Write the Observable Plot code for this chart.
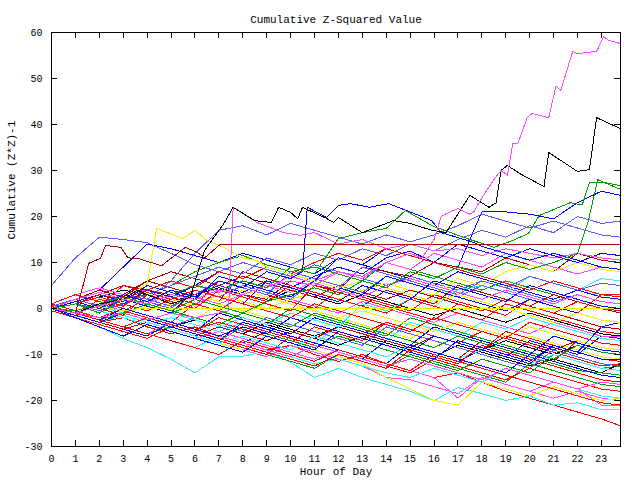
<!DOCTYPE html>
<html>
<head>
<meta charset="utf-8">
<script src="https://cdn.jsdelivr.net/npm/d3@7"></script>
<script src="https://cdn.jsdelivr.net/npm/@observablehq/plot@0.6"></script>
<style>
  html, body { margin: 0; padding: 0; background: #fff; }
  svg { display: block; }
</style>
</head>
<body>
<div id="chart"></div>
<script>
// ---------- text ----------
const titleText = "Cumulative Z-Squared Value";
const xLabelText = "Hour of Day";
const yLabelText = "Cumulative (Z*Z)-1";

// ---------- ticks ----------
const xTicks = [0,1,2,3,4,5,6,7,8,9,10,11,12,13,14,15,16,17,18,19,20,21,22,23];
const yTicks = [-30,-20,-10,0,10,20,30,40,50,60];

// ---------- hourly sample times for most runs ----------
const hours = [0,1,2,3,4,5,6,7,8,9,10,11,12,13,14,15,16,17,18,19,20,21,22,23,23.8];

// ---------- hourly runs, grouped by colour ----------
const redRuns = [
  [0,-1.5,-3,-2,-4,-5.5,-4,-6,-7.5,-9,-8,-10,-11.5,-10,-12,-13.5,-15,-14,-16,-18,-19.5,-21,-22.5,-24,-25.5],
  [1,-0.5,-2,0,-1.5,-3,1,-0.5,-2,-3.5,-1,-2.5,-4,-5.5,-3,-4.5,-6,-7.5,-5,-6.5,-8,-9.5,-11,-12.5,-12],
  [0,2,0.5,5,3.5,2,0.5,6,4.5,3,1.5,0,4,2.5,1,-0.5,3,1.5,0,-1.5,2,0.5,-1,3,3],
  [-0.5,-2,-3.5,-5,-6.5,-4,-5.5,-7,-8.5,-10,-6,-7.5,-9,-10.5,-12,-8,-9.5,-11,-7,-8.5,-10,-11.5,-7,-8.5,-9],
  [0.5,-1,1,-0.5,-2,-3.5,-5,-2,-3.5,-5,-6.5,-8,-9.5,-11,-12.5,-14,-11,-12.5,-14,-15.5,-13,-14.5,-16,-17.5,-18],
  [0,-1.5,2,0.5,4,2.5,1,-0.5,3,1.5,5,3.5,2,0.5,-1,2,0.5,-1,-2.5,1,-0.5,-2,-3.5,-5,-5.5],
  [1,3,1.5,0,-1.5,-3,-4.5,-3,-4.5,-6,-7.5,-4,-5.5,-7,-3,-4.5,-6,-7.5,-9,-5,-6.5,-8,-9.5,-11,-11.5],
  [0,-1,-2.5,-4,-5.5,-7,-8.5,-10,-7,-8.5,-10,-11.5,-9,-10.5,-12,-13.5,-10,-11.5,-13,-14.5,-16,-17.5,-19,-20.5,-21],
  [0,1.5,0,-1.5,3,1.5,0,4,2.5,1,-0.5,5,3.5,2,0.5,-1,-2.5,1,-0.5,2,0.5,-1,1.5,0,-0.5],
  [0,1,3,2,4,6,4.5,8,6.5,9,7.5,10,12,10.5,13,11.5,10,8.5,7,5.5,4,6,4.5,3,2.5],
  [0,-1,-2.5,-4,-2,-3.5,-5,-6.5,-8,-9.5,-11,-12.5,-10,-11.5,-13,-9,-10.5,-12,-8,-9.5,-11,-12.5,-14,-15.5,-16],
  [0,1,2.5,1,-0.5,2,4,2.5,1,-0.5,-2,1,-0.5,-2,-3.5,-5,-2,-3.5,-5,-6.5,-3,-4.5,-6,-7.5,-8]
];
const darkRedRuns = [
  [0,-1,1,3,6,4.5,3,1.5,8,6.5,5,3.5,2,0.5,4,2.5,1,5,3.5,2,0.5,-1,-2.5,-4,-4.5],
  [0,1,3,5,4,3,2,4,3,2,6,5,4,9,8,7,10,9,8,11,9.5,8,12,10.5,10],
  [0,-1.5,-3,-4.5,-3,-4.5,-6,-4,-5.5,-7,-5,-6.5,-4,-5.5,-7,-8.5,-6,-7.5,-9,-6,-7.5,-9,-7,-8.5,-9],
  [0,2,4,2.5,6,8,6.5,5,7,5.5,4,2.5,5,3.5,2,4,2.5,1,-0.5,2,0.5,3,1.5,0,-1]
];
const greenRuns = [
  [0,-1.5,-3,-1,-2.5,-4,-5.5,-7,-4,-5.5,-7,-8.5,-6,-7.5,-9,-10.5,-12,-13.5,-11,-12.5,-14,-10,-11.5,-13,-12.5],
  [0.5,-1,-2.5,-4,-5.5,-4,-5.5,-7,-8.5,-10,-11.5,-13,-10,-11.5,-13,-10,-11.5,-13,-14.5,-16,-12,-13.5,-15,-16.5,-17],
  [0,1,0,2,3,5,8,10,11.5,9.5,8,9,7.5,6,10,8.5,7,5.5,4,6,4.5,3,1.5,0,-0.5],
  [0,-1,0.5,-1,-2.5,-1,1,-0.5,-2,-3.5,0,-1.5,-3,-4.5,-6,-2,-3.5,-5,-6.5,-8,-9.5,-11,-8,-9.5,-10],
  [0,-1,-2.5,-1,1,-0.5,-2,-3.5,-1,-2.5,-4,-1,-2.5,-4,-5.5,-7,-8.5,-6,-7.5,-9,-10.5,-12,-13.5,-14,-14.5]
];
const blueRuns = [
  [0,-1,1,-0.5,2,0.5,3,5,3.5,6,4.5,7,9,7.5,11,12.5,10,9,21,21,20.5,19.5,23,25.5,24.6],
  [0,2,4,9,14,13,11.5,10,12,10.5,9,7.5,11,9.5,8,6.5,5,8,6.5,5,3.5,2,4,2.5,2],
  [0,-1.5,-3,-4.5,-6,-3,-4.5,-6,-7.5,-5,-6.5,-8,-9.5,-11,-7,-8.5,-10,-11.5,-9,-10.5,-7,-8.5,-10,-6,-6.5],
  [0.5,-1,-2.5,-4,-2,-3.5,-5,-1,-2.5,-4,-5.5,-2,-3.5,-5,-6.5,-8,-4,-5.5,-7,-8.5,-10,-6,-7.5,-9,-9.5],
  [0,1,-0.5,2,0.5,-1,4,2.5,1,6,4.5,3,1.5,5,3.5,2,6,4.5,3,1.5,5,3.5,2,0.5,0],
  [0,-1.5,-3,-1,-2.5,-4,-5.5,-7,-3,-4.5,-6,-7.5,-9,-10.5,-12,-8,-9.5,-11,-12.5,-14,-10,-11.5,-13,-14.5,-15],
  [0,1,2.5,1,4,2.5,5,8,6.5,9,7.5,6,11,9.5,13,11.5,10,14,12.5,11,13,11.5,10,12,11.5],
  [0,-2,-4,-6,-3.5,-5,-6.5,-8,-9.5,-6,-7.5,-9,-5,-6.5,-8,-9.5,-11,-7,-8.5,-10,-11.5,-8,-9.5,-11,-11],
  [0,1.5,3,1.5,5,3.5,2,7,5.5,4,2.5,6,4.5,3,7,5.5,4,2.5,1,-0.5,2,0.5,-1,-2.5,-3],
  [0,-1,-2.5,0,-1.5,-3,-4.5,-6,-4,-5.5,-2,-3.5,-5,-6.5,-8,-9.5,-6,-7.5,-9,-10.5,-12,-8,-9.5,-4,-3]
];
const lightBlueRuns = [
  [5,11,15.5,15,14.3,12,9.5,8,10,8.5,7,9.5,8,6.5,5,7,5.5,4,6,4.5,3,1.5,3,1.5,1],
  [0,-1,1,3,2,6,12,17,18,16,18.5,17,15.5,14,16,14.5,16,18,20.5,19,17.5,19,17.5,16,15.5],
  [0,-1,-2.5,-1,-2.5,-4,-2,-3.5,-5,-2,-3.5,-5,-6.5,-8,-4,-5.5,-7,-8.5,-10,-11.5,-13,-9,-10.5,-12,-12.5],
  [0.5,2,0.5,3,1.5,0,4,2.5,5,3.5,2,6,4.5,9,7.5,6,4.5,3,6,4.5,7,5.5,4,5.5,5],
  [0,1,-0.5,1,3,5,7,9,7.5,11,9.5,12,10.5,13,11.5,14,12.5,15,17,15.5,18,16.5,20,18.5,19],
  [0,-0.5,1,-0.5,2,0.5,3,6,4.5,3,8,6.5,5,3.5,7,5.5,4,2.5,5,3.5,2,0.5,-1,-2.5,-3]
];
const magentaRuns = [
  [0,-1.5,-3,-4.5,-3,-4.5,-6,-7.5,-9,-10.5,-8,-9.5,-11,-12.5,-15,-15.5,-17,-18.5,-15,-16.5,-18,-19.5,-18,-19.5,-20],
  [0,1,-0.5,-2,-3.5,-5,-6.5,-5,-6.5,-8,-9.5,-11,-9,-10.5,-12,-13.5,-15,-19.5,-15,-16.5,-18,-16,-17.5,-21,-21],
  [1,3,4.5,3,4,2.5,1,3,1.5,0,2,0.5,-1,1.5,0,-1.5,-3,-1,-2.5,-4,-5.5,-3,-4.5,-6,-6],
  [0,-0.5,1,2.5,1,4,2.5,1,3,5,3.5,6,8,6.5,10,8.5,12,10.5,9,12,10.5,9,7.5,9,8.5],
  [0,2,3.5,2,1,3,5,3.5,6,4.5,7,5.5,4,2.5,5,6.5,5,3.5,2,4,2.5,1,3,1.5,1],
  [0,-1,-2.5,-4,-5.5,-3,-4.5,-6,-7.5,-9,-10.5,-8,-9.5,-11,-12.5,-11,-12.5,-14,-15.5,-13,-14.5,-16,-17.5,-16,-16.5]
];
const cyanRuns = [
  [0,-2,-4,-6.5,-8.5,-11,-14,-10.5,-10.4,-9.2,-11.7,-15,-13,-15,-16.5,-18,-20,-17.2,-18.5,-20,-19,-21,-20.5,-22,-22],
  [0,-1,-2.5,-4,-5.5,-7,-8.5,-6,-7.5,-9,-10.5,-12,-11,-12.5,-14,-15,-13,-14.5,-16,-13,-14.5,-16,-17.5,-19,-19.5],
  [0,1,-0.5,-2,-3.5,-2,-3.5,-5,-3,-4.5,-6,-7.5,-4,-5.5,-7,-3,-4.5,-6,-3,-4.5,-2,-3.5,-5,-6.5,-7],
  [0,-1,0.5,-1,-2.5,-1,-2.5,-4,-2,-3.5,-1,-2.5,-4,1,-0.5,2,0.5,4,5,3.5,7,5.5,4,6.5,6],
  [0,-1.5,-3,-1.5,-3,-4.5,-6,-7.5,-6,-7.5,-9,-6,-7.5,-9,-10.5,-8,-9.5,-11,-9,-10.5,-12,-10,-11.5,-13,-13.5]
];
const yellowRuns = [
  [0,-1.5,-3,-4.5,-3,-4.5,-6,-7.5,-9,-6,-7.5,-9,-10.5,-12,-15,-17.5,-20,-21,-16,-17.5,-19,-17,-18.5,-20,-19.5],
  [0,-1,-2.5,-1,0.5,-1,-2.5,1,-0.5,-2,-3.5,-5,-2,-3.5,-5,-6.5,-4,-5.5,-7,-8.5,-6,-7.5,-9,-10.5,-11],
  [0,1,-0.5,1,-0.5,2,0.5,3,1.5,0,2,3.5,2,4,5.5,4,3,6.5,5,8,9.5,8,10,8.5,8],
  [0,1,2.5,1,-0.5,1,3,1.5,4,2.5,1,-0.5,-2,-0.5,-2,-3.5,-5,-3,-4.5,-6,-4,-5.5,-7,-8.5,-9]
];
const blackRuns = [
  [0,-1,-2.5,-1,-2.5,-1,-2.5,-4,-2,-3.5,-5,-6.5,-8,-6,-7.5,-9,-10.5,-8,-9.5,-11,-12.5,-11,-12.5,-14,-12],
  [0,1,2.5,4,3,1.5,3,4.5,3,1.5,4,2.5,1,3,1.5,0,-1.5,0,-1.5,-3,-1,-2.5,-4,-5.5,-6],
  [0,-1,0.5,-1,-2.5,-4,-2.5,-4,-5.5,-3,-4.5,-6,-4,-5.5,-7,-8.5,-6,-7.5,-9,-7,-8.5,-10,-8,-9.5,-10]
];

// ---------- runs read at finer times ----------
const blueTopHours  = [0,1,2,3,4,5,6,7,8,9,10,10.5,10.7,11.5,12,12.5,13.3,14.1,15,15.9,16.3,17.7,18,19,20,21,22,23,23.8];
const blueTopValues = [0,1.5,0,3,1.5,4,2.5,6,4.5,8,6.5,8,22,19.8,22.4,22.8,22,22.8,21,19.1,16.5,14.3,13.5,12,10.5,12,10.5,9,8.5];

const greenTopHours  = [0,1,2,3,4,5,6,7,8,9,10,11,12,13,14,14.8,16,17.5,18.5,19.3,19.95,20.4,20.9,21.7,22.2,22.5,23,23.8];
const greenTopValues = [0,1,-1,2,1,3,5,4,6,4.5,9,7.5,15.2,16.5,17.4,21.3,17.8,15,13.3,14.8,16.3,20.2,21.3,23,22.5,27.4,27.5,26.7];

const greenLateHours  = [0,1,2,3,4,5,6,7,8,9,10,11,12,13,14,15,16,17,18,19,20,21,22,22.45,22.85,23.3,23.8];
const greenLateValues = [0,-0.5,1,2.5,1,-0.5,2,0.5,-1,1.5,3,4.5,3,6,4.5,8,6.5,9,7.5,10,8.5,10,12,19,28,27,25.9];

const magentaTopHours  = [0,1,2,3,4,5,6,7,8,9,10,11,12,13,14,15,15.5,16,16.3,16.5,17,17.5,17.65,18,18.5,18.8,19.07,19.3,19.5,19.9,20.1,20.8,21.1,21.3,21.8,22,22.8,23.1,23.3,23.8];
const magentaTopValues = [0,-1,0.5,2,1,3,2,4,3,5,6,5,8,7,10,12,11,15,20,20.6,21.7,20.5,20.9,24,28,30,29,36,35.8,41.5,42.4,41.5,48.3,47.4,55.9,55.4,55.9,59.1,58.3,57.6];

const magentaJumpHours  = [0,1,2,3,4,5,6,7,7.4,7.6,8.6,9.7,10.4,11,12,13,14,15,16,17,18,19,20,21,22,23,23.8];
const magentaJumpValues = [0,-1,-2,-1,-2.5,-1,-2,-1,-0.5,22,18.7,16.5,15.9,16.5,14,15,13,14,12.5,13,11.5,13,12,11,12,11,10.5];

const yellowJumpHours  = [0,1,2,3,4,4.4,4.85,5.5,6,6.5,7.2,8,8.6,9,10,11,12,13,14,15,16,17,18,19,20,21,22,23,23.8];
const yellowJumpValues = [0,-1,1,2,5.4,17.4,16.5,15.2,17,14.8,13.3,11,10.4,9,7.5,6,4.5,6,4.5,3,1.5,3,1.5,0,-1.5,-3,-1,-2.5,-3];

const yellowFlatHours  = [0,1,2,3,3.7,23.8];
const yellowFlatValues = [0,-1,0.5,-0.5,0,0];

const blackTopHours  = [0,1,2,3,3.6,4,5,5.8,6.4,7.2,7.6,8.5,9.2,9.5,10,10.3,10.5,11.5,11.8,12,13,14.3,15,15.9,16.5,17.5,18.3,18.6,18.8,19.07,19.6,20.6,20.8,21.3,22,22.5,22.8,23.5,23.8];
const blackTopValues = [0,-1,1,2,4,3,1,2.4,12.6,18.4,22,19.1,18.7,22,20.9,19.5,22,19.6,18.7,19.8,16.5,19.1,18.5,17,16.5,24.6,22,23,30,31.1,29.3,26.5,33.9,32.2,29.8,30.2,41.5,39.8,39.1];

const darkRedFlatHours  = [0,0.5,1,1.35,1.55,2.05,2.26,2.9,3.2,3.6,4.6,5.6,6.1,6.4,7.07,23.8];
const darkRedFlatValues = [0,-0.5,-1,5.6,9.8,10.9,13.7,13.3,11,10.9,9.3,13.3,12.2,11,14,14];

// ---------- styles ----------
const COLORS = {
  red: "#ff0000", darkred: "#b00000", green: "#00a000", blue: "#0000ff",
  lightblue: "#5a5aff", magenta: "#ff48ff", cyan: "#30f0ff", yellow: "#f0f000", black: "#000000"
};

// ---------- build table ----------
const rows = [];
let runId = 0;
function addRun(xs, vs, color) {
  const id = runId++;
  xs.forEach((h, i) => rows.push({h, v: vs[i], id, color}));
}
const groups = [
  [redRuns, COLORS.red], [greenRuns, COLORS.green], [blueRuns, COLORS.blue],
  [magentaRuns, COLORS.magenta], [cyanRuns, COLORS.cyan], [yellowRuns, COLORS.yellow],
  [blackRuns, COLORS.black], [darkRedRuns, COLORS.darkred], [lightBlueRuns, COLORS.lightblue]
];
const maxLen = Math.max(...groups.map(g => g[0].length));
for (let k = 0; k < maxLen; k++) {
  for (const [runs, color] of groups) {
    if (k < runs.length) addRun(hours, runs[k], color);
  }
}
addRun(yellowFlatHours, yellowFlatValues, COLORS.yellow);
addRun(yellowJumpHours, yellowJumpValues, COLORS.yellow);
addRun(magentaJumpHours, magentaJumpValues, COLORS.magenta);
addRun(blueTopHours, blueTopValues, COLORS.blue);
addRun(greenLateHours, greenLateValues, COLORS.green);
addRun(greenTopHours, greenTopValues, COLORS.green);
addRun(darkRedFlatHours, darkRedFlatValues, COLORS.darkred);
addRun(blackTopHours, blackTopValues, COLORS.black);
addRun(magentaTopHours, magentaTopValues, COLORS.magenta);

const frameW = 640 - 51 - 20;
const frameH = 480 - 32 - 34;
const tickLen = 6;
const FONT = "'Liberation Mono', 'DejaVu Sans Mono', monospace";

const chart = Plot.plot({
  width: 640,
  height: 480,
  marginLeft: 51,
  marginRight: 20,
  marginTop: 32,
  marginBottom: 34,
  style: {fontFamily: FONT, fontSize: "10px", background: "#fff", color: "#000"},
  x: {domain: [0, 23.8]},
  y: {domain: [-30, 60]},
  color: {type: "identity"},
  marks: [
    Plot.line(rows, {x: "h", y: "v", z: "id", stroke: "color", strokeWidth: 1, curve: "linear", shapeRendering: "crispEdges"}),
    Plot.frame({stroke: "#000", strokeWidth: 1, shapeRendering: "crispEdges"}),
    Plot.tickX(xTicks, {x: d => d, insetTop: frameH - tickLen, stroke: "#000", shapeRendering: "crispEdges"}),
    Plot.tickX(xTicks, {x: d => d, insetBottom: frameH - tickLen, stroke: "#000", shapeRendering: "crispEdges"}),
    Plot.tickY(yTicks, {y: d => d, insetRight: frameW - tickLen, stroke: "#000", shapeRendering: "crispEdges"}),
    Plot.tickY(yTicks, {y: d => d, insetLeft: frameW - tickLen, stroke: "#000", shapeRendering: "crispEdges"}),
    Plot.axisX(xTicks, {tickSize: 0, tickPadding: 8, label: null, tickFormat: d => String(d), fontSize: 10, fontFamily: FONT}),
    Plot.axisY(yTicks, {tickSize: 0, tickPadding: 9, label: null, tickFormat: d => String(d), fontSize: 10, fontFamily: FONT}),
    Plot.text([titleText], {frameAnchor: "top", dy: -17, fontSize: 11, fontFamily: FONT, fill: "#000"}),
    Plot.text([xLabelText], {frameAnchor: "bottom", dy: 28, fontSize: 11, fontFamily: FONT, fill: "#000"}),
    Plot.text([yLabelText], {frameAnchor: "left", dx: -40, rotate: -90, fontSize: 11, fontFamily: FONT, fill: "#000"})
  ]
});
document.getElementById("chart").appendChild(chart);
</script>
</body>
</html>
